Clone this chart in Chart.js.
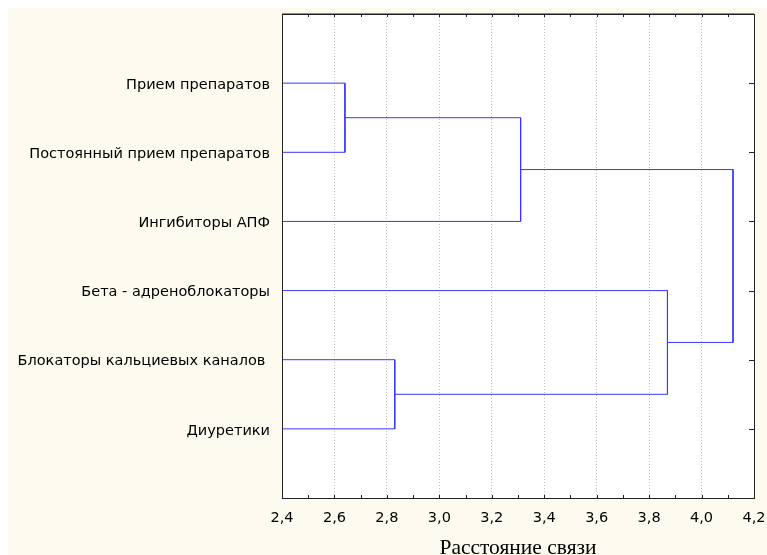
<!DOCTYPE html>
<html>
<head>
<meta charset="utf-8">
<script src="https://cdn.jsdelivr.net/npm/chart.js@4"></script>
<style>
html, body { margin: 0; padding: 0; background: #fff; }
#wrap { position: absolute; left: 8px; top: 8px; width: 759px; height: 547px; }
</style>
</head>
<body>
<div id="wrap"><canvas id="dendro"></canvas></div>
<script>
// leaves, top to bottom
const leafLabels = [
    'Прием препаратов',
    'Постоянный прием препаратов',
    'Ингибиторы АПФ',
    'Бета - адреноблокаторы',
    'Блокаторы кальциевых каналов ',
    'Диуретики'
]
// linkage: nodes 0-5 are leaves, merge k creates node 6 + k
const linkA = [0, 4, 6, 3, 8]
const linkB = [1, 5, 2, 7, 9]
const linkDist = [2.64, 2.83, 3.31, 3.87, 4.12]
const xTicks = [2.4, 2.6, 2.8, 3.0, 3.2, 3.4, 3.6, 3.8, 4.0, 4.2]
const axisTitle = 'Расстояние связи'

const lineColor = '#3636ff'
const labelFont = { family: 'DejaVu Sans', size: 14.5 }

function buildLinks() {
    const nx = leafLabels.map(() => xTicks[0])
    const ny = leafLabels.map((_, i) => i + 1)
    const sets = []
    linkDist.forEach((d, k) => {
        const a = linkA[k], b = linkB[k]
        sets.push({
            data: [
                { x: nx[a], y: ny[a] },
                { x: d, y: ny[a] },
                { x: d, y: ny[b] },
                { x: nx[b], y: ny[b] }
            ],
            showLine: true,
            borderColor: lineColor,
            borderWidth: 1,
            pointRadius: 0,
            fill: false
        })
        nx.push(d)
        ny.push((ny[a] + ny[b]) / 2)
    })
    return sets
}

function noEdgePadding(s) {
    s.paddingTop = 0
    s.paddingBottom = 0
    s.paddingLeft = 0
    s.paddingRight = 0
}

const framePlugin = {
    id: 'frame',
    beforeDraw(chart) {
        const { ctx, chartArea: a } = chart
        ctx.save()
        ctx.fillStyle = '#fdfaef'
        ctx.fillRect(0, 0, chart.width, chart.height)
        ctx.fillStyle = '#ffffff'
        ctx.fillRect(a.left, a.top, a.right - a.left, a.bottom - a.top)
        ctx.restore()
    },
    afterDraw(chart) {
        const { ctx, chartArea: a, scales } = chart
        ctx.save()
        ctx.strokeStyle = '#222'
        ctx.lineWidth = 1
        ctx.beginPath()
        // ticks every half step on top and bottom, inward
        const minor = []
        xTicks.forEach((v, i) => {
            minor.push(v)
            if (i < xTicks.length - 1) minor.push((v + xTicks[i + 1]) / 2)
        })
        minor.forEach(v => {
            const px = Math.round(scales.x.getPixelForValue(v)) + 0.5
            ctx.moveTo(px, a.top); ctx.lineTo(px, a.top + 3)
            ctx.moveTo(px, a.bottom); ctx.lineTo(px, a.bottom - 3)
        })
        // leaf ticks on the right side
        leafLabels.forEach((_, i) => {
            const py = Math.round(scales.y.getPixelForValue(i + 1)) + 0.5
            ctx.moveTo(a.right, py); ctx.lineTo(a.right - 5, py)
        })
        ctx.stroke()
        ctx.strokeRect(Math.round(a.left) + 0.5, Math.round(a.top) + 0.5,
            Math.round(a.right - a.left), Math.round(a.bottom - a.top))
        // top edge is a bit heavier and grey
        ctx.strokeStyle = '#8a8a8a'
        ctx.beginPath()
        ctx.moveTo(a.left, Math.round(a.top) - 0.5)
        ctx.lineTo(a.right, Math.round(a.top) - 0.5)
        ctx.stroke()
        ctx.restore()
    }
}

new Chart(document.getElementById('dendro'), {
    type: 'scatter',
    data: { datasets: buildLinks() },
    options: {
        responsive: true,
        maintainAspectRatio: false,
        animation: false,
        layout: { padding: { top: 6, right: 13, left: 0, bottom: 0 } },
        plugins: { legend: { display: false }, tooltip: { enabled: false } },
        scales: {
            x: {
                type: 'linear',
                min: xTicks[0],
                max: xTicks[xTicks.length - 1],
                afterBuildTicks: s => { s.ticks = xTicks.map(v => ({ value: v })) },
                afterFit: s => { s.height = 57; noEdgePadding(s) },
                ticks: {
                    color: '#000',
                    font: labelFont,
                    padding: 12,
                    maxRotation: 0,
                    callback: v => v.toFixed(1).replace('.', ',')
                },
                grid: { color: '#c4c4c4', drawTicks: false },
                border: { display: false, dash: [1, 2] },
                title: {
                    display: true,
                    text: axisTitle,
                    color: '#000',
                    font: { family: 'Liberation Serif', size: 21.5, lineHeight: 0.6 },
                    padding: { top: 0, bottom: 0 }
                }
            },
            y: {
                type: 'linear',
                min: 0,
                max: 7,
                reverse: true,
                afterBuildTicks: s => { s.ticks = leafLabels.map((_, i) => ({ value: i + 1 })) },
                afterFit: s => { s.width = 274; noEdgePadding(s) },
                ticks: {
                    color: '#000',
                    font: labelFont,
                    padding: 12,
                    labelOffset: 2,
                    callback: v => leafLabels[v - 1]
                },
                grid: { display: false, drawTicks: false },
                border: { display: false }
            }
        }
    },
    plugins: [framePlugin]
})
</script>
</body>
</html>
